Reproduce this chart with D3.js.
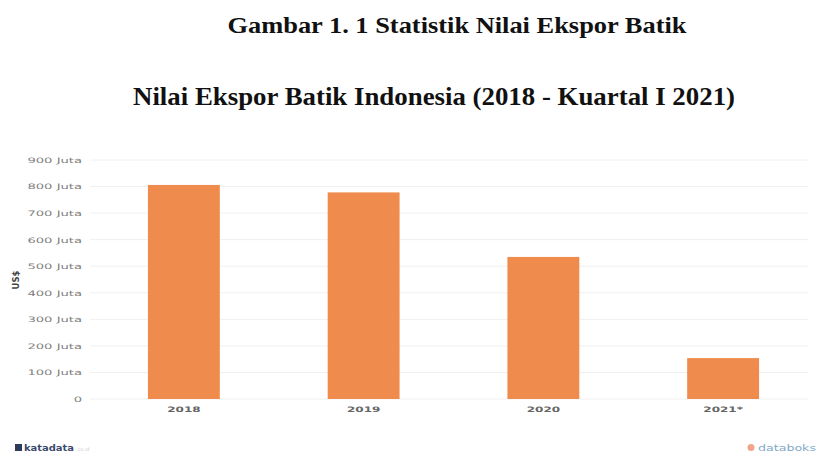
<!DOCTYPE html>
<html>
<head>
<meta charset="utf-8">
<script src="https://cdn.jsdelivr.net/npm/d3@7"></script>
<style>
  html, body { margin: 0; padding: 0; background: #fff; }
  svg { display: block; }
</style>
</head>
<body>
<svg id="chart" width="818" height="459"></svg>
<script>
// Export value of Indonesian batik, in millions (Juta)
const years = ["2018", "2019", "2020", "2021*"];
const values = [806, 778, 535, 154];
const tickValues = [0, 100, 200, 300, 400, 500, 600, 700, 800, 900];
const tickLabels = ["0", "100 Juta", "200 Juta", "300 Juta", "400 Juta", "500 Juta", "600 Juta", "700 Juta", "800 Juta", "900 Juta"];

const svg = d3.select("#chart");

// Widen a text selection horizontally by a factor
function widen(sel, factor) {
  sel.each(function () {
    const len = this.getComputedTextLength();
    d3.select(this)
      .attr("textLength", len * factor)
      .attr("lengthAdjust", "spacingAndGlyphs");
  });
}

// Titles
svg.append("text")
  .attr("x", 457).attr("y", 33)
  .attr("text-anchor", "middle")
  .attr("font-family", "Liberation Serif, Times New Roman, serif")
  .attr("font-weight", "bold")
  .attr("font-size", 23)
  .attr("fill", "#111")
  .attr("textLength", 459)
  .attr("lengthAdjust", "spacingAndGlyphs")
  .text("Gambar 1. 1 Statistik Nilai Ekspor Batik");

svg.append("text")
  .attr("x", 434).attr("y", 105)
  .attr("text-anchor", "middle")
  .attr("font-family", "Liberation Serif, Times New Roman, serif")
  .attr("font-weight", "bold")
  .attr("font-size", 26)
  .attr("fill", "#111")
  .attr("textLength", 602)
  .attr("lengthAdjust", "spacingAndGlyphs")
  .text("Nilai Ekspor Batik Indonesia (2018 - Kuartal I 2021)");

// Scales
const x = d3.scaleBand().domain(years).range([94, 813]).paddingInner(0.6).paddingOuter(0.3);
const y = d3.scaleLinear().domain([0, 900]).range([399, 160]);

// Gridlines
svg.append("g")
  .selectAll("line")
  .data(tickValues)
  .join("line")
  .attr("x1", 90).attr("x2", 808)
  .attr("y1", d => y(d)).attr("y2", d => y(d))
  .attr("stroke", "#f0f0f0")
  .attr("stroke-width", 1);

// Y axis tick labels
const yAxis = d3.axisLeft(y)
  .tickValues(tickValues)
  .tickFormat((d, i) => tickLabels[i])
  .tickSize(0)
  .tickPadding(0);
const gy = svg.append("g").attr("transform", "translate(82,0)").call(yAxis);
gy.select(".domain").remove();
gy.selectAll("text")
  .attr("font-family", "DejaVu Sans, sans-serif")
  .attr("font-size", 7.5)
  .attr("fill", "#808080")
  .call(widen, 1.75);

// Y axis title
svg.append("text")
  .attr("transform", "translate(19,280) rotate(-90)")
  .attr("text-anchor", "middle")
  .attr("font-family", "DejaVu Sans, sans-serif")
  .attr("font-weight", "bold")
  .attr("font-size", 8.5)
  .attr("fill", "#444")
  .text("US$");

// Bars
svg.append("g")
  .selectAll("rect")
  .data(values)
  .join("rect")
  .attr("x", (d, i) => x(years[i]))
  .attr("width", x.bandwidth())
  .attr("y", d => y(d))
  .attr("height", d => y(0) - y(d))
  .attr("fill", "#EF8B4D");

// X axis labels
const xAxis = d3.axisBottom(x).tickSize(0).tickPadding(0);
const gx = svg.append("g").attr("transform", "translate(0,407)").call(xAxis);
gx.select(".domain").remove();
gx.selectAll("text")
  .attr("font-family", "DejaVu Sans, sans-serif")
  .attr("font-size", 7.5)
  .attr("font-weight", "bold")
  .attr("fill", "#666")
  .call(widen, 1.6);

// Footer: katadata brand
const left = svg.append("g").attr("transform", "translate(15,450)");
left.append("rect").attr("x", 0).attr("y", -6).attr("width", 7).attr("height", 7).attr("fill", "#2d3b5a");
left.append("text").attr("x", 9).attr("y", 1)
  .attr("font-family", "DejaVu Sans, sans-serif").attr("font-size", 8).attr("font-weight", "bold")
  .attr("fill", "#3a4a6e").attr("textLength", 50).attr("lengthAdjust", "spacingAndGlyphs")
  .text("katadata");
left.append("text").attr("x", 61).attr("y", 1)
  .attr("font-family", "DejaVu Sans, sans-serif").attr("font-size", 5)
  .attr("fill", "#ccc").text(".co.id");

// Footer: databoks brand
const right = svg.append("g").attr("transform", "translate(746,450)");
right.append("circle").attr("cx", 5).attr("cy", -2.5).attr("r", 3.5).attr("fill", "#f2a58a");
right.append("text").attr("x", 12).attr("y", 1)
  .attr("font-family", "DejaVu Sans, sans-serif").attr("font-size", 8)
  .attr("fill", "#7fa9c9").attr("textLength", 58).attr("lengthAdjust", "spacingAndGlyphs")
  .text("databoks");
</script>
</body>
</html>
